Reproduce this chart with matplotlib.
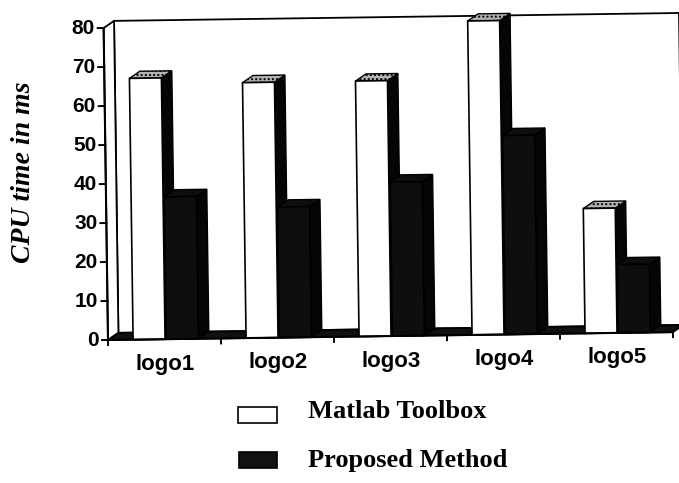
import matplotlib
matplotlib.use("Agg")
import matplotlib.pyplot as plt
from matplotlib.patches import Polygon, Rectangle
from matplotlib.lines import Line2D
from matplotlib.transforms import Affine2D

categories = ["logo1", "logo2", "logo3", "logo4", "logo5"]
matlab_toolbox = [67, 65.5, 65.5, 80.5, 32]
proposed_method = [36.5, 33.5, 39.5, 51, 17.5]
y_ticks = [0, 10, 20, 30, 40, 50, 60, 70, 80]
legend_labels = ["Matlab Toolbox", "Proposed Method"]
y_label = "CPU time in ms"

W, H = 679, 483
fig = plt.figure(figsize=(W / 100, H / 100), dpi=100)
fig.patch.set_facecolor("white")

# front plane of the 3-D box, in pixels
X0, X1 = 108, 673
Y0, Y1 = 340, 28
ax = fig.add_axes([X0 / W, (H - Y0) / H, (X1 - X0) / W, (Y0 - Y1) / H])
ax.set_xlim(0, len(categories))
ax.set_ylim(0, 80)
ax.axis("off")

px_x = (X1 - X0) / len(categories)
px_y = (Y0 - Y1) / 80
DX = 10.5 / px_x
DY = 7.0 / px_y
n = len(categories)

# the whole chart sits slightly tilted on the page
tr = ax.transData + Affine2D().rotate_deg_around(X0, H - Y0, 0.8)
pix = Affine2D().scale(1, -1).translate(0, H)


def face(pts, fc, z, lw=1.0, **kw):
    p = Polygon(pts, closed=True, facecolor=fc, edgecolor="black",
                linewidth=lw, transform=tr, clip_on=False, zorder=z, **kw)
    ax.add_patch(p)
    return p


# walls and floor
face([(DX, DY), (n + DX, DY), (n + DX, 80 + DY), (DX, 80 + DY)], "white", 1, lw=1.3)
face([(0, 0), (DX, DY), (DX, 80 + DY), (0, 80)], "white", 1.1, lw=1.3)
face([(0, 0), (n, 0), (n + DX, DY), (DX, DY)], "#111111", 2, lw=1.3)

# bars
bar_w = 0.283
series = [
    (0.222, matlab_toolbox, "white", "#b4b4b4", "...."),
    (0.517, proposed_method, "#0e0e0e", "#0e0e0e", None),
]
z = 3.0
for i in range(n):
    for off, vals, fc, top_fc, hatch in series:
        v = vals[i]
        L = i + off
        R = L + bar_w
        face([(R, 0), (R + DX, DY), (R + DX, v + DY), (R, v)], "#050505", z)
        face([(L, v), (R, v), (R + DX, v + DY), (L + DX, v + DY)], top_fc, z,
             hatch=hatch)
        b = ax.bar([L], [v], width=bar_w, align="edge", color=fc,
                   edgecolor="black", linewidth=1.2, zorder=z + 0.05)
        for r in b:
            r.set_transform(tr)
            r.set_clip_on(False)
        z += 0.1

# axis ticks and labels
for t in y_ticks:
    ax.add_line(Line2D([-6 / px_x, 0], [t, t], color="black", lw=1.4,
                       transform=tr, clip_on=False, zorder=20))
    ax.text(-9 / px_x, t, str(t), transform=tr, ha="right", va="center",
            fontsize=15, fontweight="bold", family="Liberation Sans",
            zorder=20)

ax.add_line(Line2D([0, 0], [0, 80], color="black", lw=1.5, transform=tr,
                   clip_on=False, zorder=20))
ax.add_line(Line2D([0, n], [0, 0], color="black", lw=1.5, transform=tr,
                   clip_on=False, zorder=20))
for i in range(n + 1):
    ax.add_line(Line2D([i, i], [0, -5 / px_y], color="black", lw=1.4,
                       transform=tr, clip_on=False, zorder=20))

for i, c in enumerate(categories):
    ax.text(i + 0.5, -25 / px_y, c, transform=tr, ha="center", va="center",
            fontsize=16, fontweight="bold", family="Liberation Sans", zorder=20)

fig.text(24, 172, y_label, transform=pix, rotation=90, ha="center",
         va="center", fontsize=20, style="italic", fontweight="bold",
         family="Liberation Serif")

# legend
fig.add_artist(Rectangle((238, 407), 39, 16, facecolor="white",
                         edgecolor="black", linewidth=1.2, transform=pix))
fig.add_artist(Rectangle((239, 452), 38, 16, facecolor="#111111",
                         edgecolor="black", linewidth=1.2, transform=pix))
fig.text(308, 418, legend_labels[0], transform=pix, ha="left",
         va="baseline", fontsize=19, fontweight="bold",
         family="Liberation Serif")
fig.text(308, 467, legend_labels[1], transform=pix, ha="left",
         va="baseline", fontsize=19, fontweight="bold",
         family="Liberation Serif")

fig.savefig("out.png", dpi=100, facecolor="white")
